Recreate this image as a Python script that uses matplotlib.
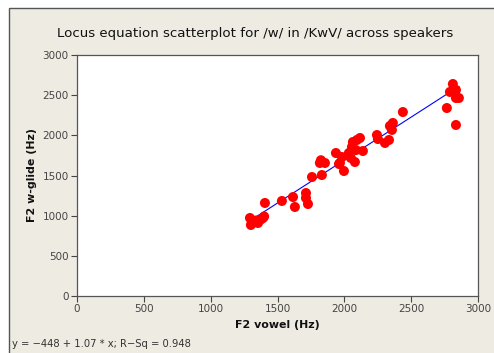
import matplotlib

matplotlib.use("Agg")
import matplotlib.pyplot as plt
import numpy as np
from matplotlib.patches import Rectangle

# F2 at vowel midpoint vs F2 at w-glide (Hz)
f2_vowel = [1294, 1301, 1354, 1369, 1391, 1340, 1380, 1400, 1406, 1533,
            1616, 1630, 1713, 1713, 1728, 1758, 1832, 1817, 1855, 1825,
            1937, 1960, 1982, 1967, 1997, 2034, 2049, 2079, 2057, 2064,
            2094, 2117, 2087, 2139, 2244, 2251, 2304, 2334, 2341, 2363,
            2356, 2438, 2812, 2790, 2835, 2835, 2857, 2767, 2835]
f2_glide = [971, 884, 909, 946, 971, 940, 960, 990, 1158, 1183,
            1232, 1108, 1282, 1220, 1145, 1481, 1506, 1656, 1656, 1690,
            1780, 1643, 1730, 1656, 1556, 1780, 1718, 1668, 1855, 1917,
            1942, 1967, 1817, 1805, 2004, 1954, 1905, 1942, 2116, 2154,
            2067, 2290, 2639, 2540, 2564, 2465, 2465, 2340, 2129]

intercept = -448
slope = 1.07
r_sq = 0.948

ticks = [0, 500, 1000, 1500, 2000, 2500, 3000]

BG = "#EEEBE2"
W, H = 494, 353

fig = plt.figure(figsize=(W / 100, H / 100), dpi=100, facecolor="white")
fig.patches.append(Rectangle((9 / W, -0.01), 1.0, 1 - 8 / H + 0.01, transform=fig.transFigure,
                             facecolor=BG, edgecolor="#555555", linewidth=1.0, zorder=-1))

ax = fig.add_axes([77 / W, (H - 296) / H, (478 - 77) / W, (296 - 55) / H])
ax.set_facecolor("white")

ax.scatter(f2_vowel, f2_glide, s=52, color="#FF0000", edgecolors="none", zorder=3)
xs = np.array([min(f2_vowel), max(f2_vowel)])
ax.plot(xs, intercept + slope * xs, color="#0000FF", linewidth=0.8, zorder=2)

ax.set_xlim(0, 3000)
ax.set_ylim(0, 3000)
ax.set_xticks(ticks)
ax.set_yticks(ticks)
ax.tick_params(direction="out", length=4, width=0.8, color="#444444",
               labelsize=7.5, labelcolor="#444444", pad=2)
for s in ax.spines.values():
    s.set_color("#555555")
    s.set_linewidth(0.9)

fig.text(255 / W, 1 - 33 / H, "Locus equation scatterplot for /w/ in /KwV/ across speakers",
         ha="center", va="center", fontsize=9.6, color="#111111")
fig.text(277 / W, 1 - 325 / H, "F2 vowel (Hz)", ha="center", va="center",
         fontsize=7.9, fontweight="bold", color="#111111")
fig.text(32 / W, 1 - 175 / H, "F2 w-glide (Hz)", ha="center", va="center", rotation=90,
         fontsize=7.9, fontweight="bold", color="#111111")
fig.text(12 / W, 1 - 344 / H, f"y = \u2212{abs(intercept)} + {slope} * x; R\u2212Sq = {r_sq}",
         ha="left", va="center", fontsize=7.2, color="#333333")

fig.savefig("out.png", dpi=100, facecolor=fig.get_facecolor())
